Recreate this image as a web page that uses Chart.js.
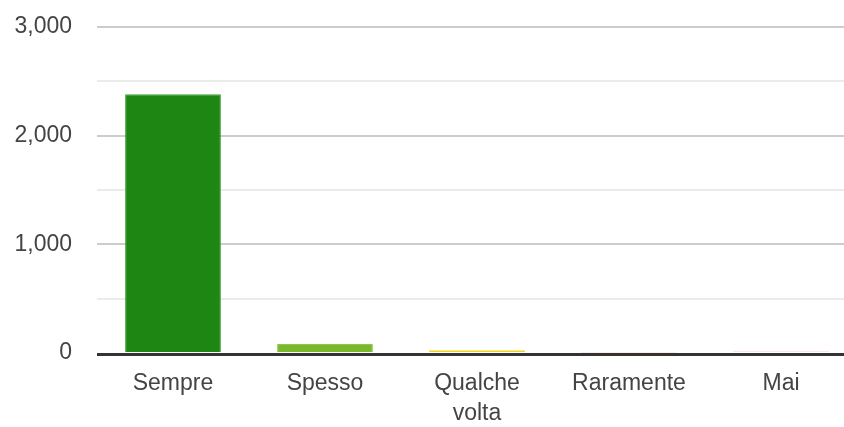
<!DOCTYPE html>
<html>
<head>
<meta charset="utf-8">
<script src="https://cdn.jsdelivr.net/npm/chart.js@4/dist/chart.umd.min.js"></script>
<style>
  html, body { margin: 0; padding: 0; background: #fff; overflow: hidden; }
  #wrap { width: 844px; height: 427px; overflow: hidden; }
  #answersChart { display: block; margin-top: -12px; }
</style>
</head>
<body>
<div id="wrap"><canvas id="answersChart" width="857" height="439"></canvas></div>
<script>
const categories = ['Sempre', 'Spesso', ['Qualche', 'volta'], 'Raramente', 'Mai'];
const answerCounts = [2380, 82, 22, 6, 12];
const barColors = ['#1e8612', '#78b82a', '#f4d21c', '#f6b98a', '#ec9a9a'];
const borderColors = ['#3a9f2e', '#8cc64a', '#f4d21c', '#f6b98a', '#ec9a9a'];
const borderWidths = [1, 1, 0, 0, 0];
const yTicks = [0, 1000, 2000, 3000];

// draw the dark zero line just under the bars
const baseline = {
    id: 'baseline',
    afterDatasetsDraw(chart) {
        const { ctx, chartArea } = chart;
        const y = chart.scales.y.getPixelForValue(0);
        ctx.save();
        ctx.strokeStyle = '#333333';
        ctx.lineWidth = 3;
        ctx.beginPath();
        ctx.moveTo(chartArea.left, y + 1.5);
        ctx.lineTo(chartArea.right, y + 1.5);
        ctx.stroke();
        ctx.restore();
    }
};

const ctx = document.getElementById('answersChart').getContext('2d');
new Chart(ctx, {
    type: 'bar',
    data: {
        labels: categories,
        datasets: [{
            data: answerCounts,
            backgroundColor: barColors,
            borderColor: borderColors,
            borderWidth: borderWidths,
            barPercentage: 0.63,
            categoryPercentage: 1
        }]
    },
    options: {
        responsive: false,
        animation: false,
        layout: { padding: 0 },
        plugins: {
            legend: { display: false },
            tooltip: { enabled: false }
        },
        scales: {
            x: {
                afterFit: (s) => { s.height = 74; },
                grid: { display: false },
                border: { display: false },
                ticks: {
                    color: '#444444',
                    padding: 8,
                    maxRotation: 0,
                    font: { family: '"Liberation Sans", Arial, sans-serif', size: 23, lineHeight: 1.3 }
                }
            },
            y: {
                min: 0,
                max: 3000,
                afterFit: (s) => { s.width = 97; },
                border: { display: false },
                grid: {
                    drawTicks: false,
                    lineWidth: 2,
                    color: (c) => {
                        const v = c.tick.value;
                        if (v === 0) return 'rgba(0,0,0,0)';
                        return yTicks.includes(v) ? '#cccccc' : '#ebebeb';
                    }
                },
                ticks: {
                    stepSize: 500,
                    color: '#444444',
                    padding: 25,
                    font: { family: '"Liberation Sans", Arial, sans-serif', size: 23 },
                    callback: (v) => yTicks.includes(v) ? v.toLocaleString('en-US') : ''
                }
            }
        }
    },
    plugins: [baseline]
});
</script>
</body>
</html>
